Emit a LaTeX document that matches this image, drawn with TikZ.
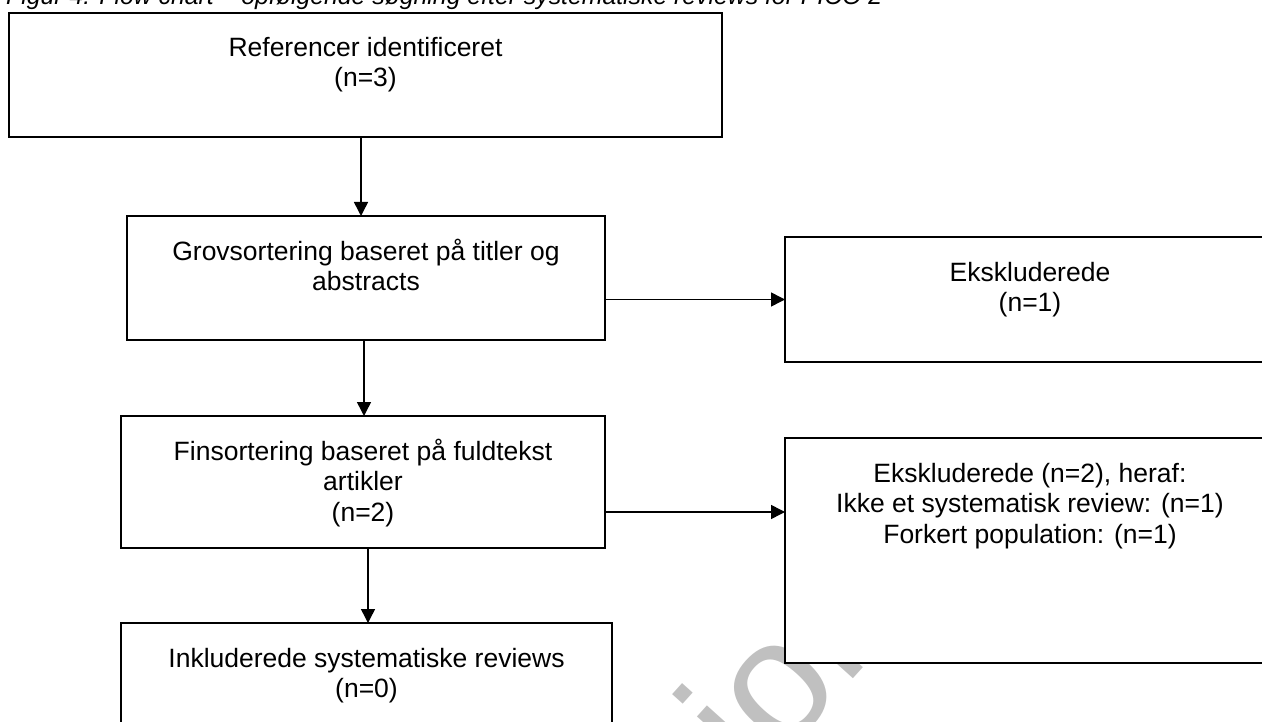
\documentclass[tikz,border=0pt]{standalone}
\usepackage{fontspec}
\setmainfont{Liberation Sans}
\usetikzlibrary{arrows.meta,calc}
\definecolor{wmgray}{RGB}{192,192,192}
\newcommand{\boxfont}{\fontsize{26.5}{30.6}\selectfont}
\newcommand{\capfont}{\fontsize{24.8}{30}\selectfont\itshape}

\begin{document}
\begin{tikzpicture}[x=1pt,y=-1pt,
  flowbox/.style={draw, line width=1.8pt, fill=white, inner sep=0pt, outer sep=0pt, anchor=north west},
  boxtext/.style={anchor=north, inner sep=0pt, align=center, font=\boxfont},
  arr/.style={line width=1.5pt, -{Triangle[length=14pt,width=14pt]}}]
\useasboundingbox (0,0) rectangle (1262,722);
\clip (0,0) rectangle (1262,722);

% watermark behind the boxes
\node[rotate=48, anchor=base east, text=wmgray, inner sep=0pt,
      font=\fontsize{170}{170}\selectfont] (wm) at (909,617) {Høringsversion};

% caption, cut at the top edge
\node[anchor=base west, inner sep=0pt, font=\capfont] (cap) at (6,4.5)
  {Figur 4: Flow chart – opfølgende søgning efter systematiske reviews for PICO 2};

% boxes
\node[flowbox, minimum width=713pt, minimum height=124pt] (a)  at (9,13) {};
\node[flowbox, minimum width=478pt, minimum height=124pt] (b)  at (127,216) {};
\node[flowbox, minimum width=484pt, minimum height=132pt] (f)  at (121,416) {};
\node[flowbox, minimum width=491pt, minimum height=140pt] (i)  at (121,623) {};
\node[flowbox, minimum width=490pt, minimum height=125pt] (e1) at (785,237) {};
\node[flowbox, minimum width=490pt, minimum height=225pt] (e2) at (785,438) {};

% box texts
\node[boxtext] (ta)  at ([yshift=-21.5pt]a.north)  {\strut Referencer identificeret\\(n=3)};
\node[boxtext] (tb)  at ([yshift=-22.6pt]b.north)  {\strut Grovsortering baseret på titler og\\abstracts};
\node[boxtext] (tf)  at ([yshift=-22.6pt]f.north)  {\strut Finsortering baseret på fuldtekst\\artikler\\(n=2)};
\node[boxtext] (ti)  at ([yshift=-22.6pt]i.north)  {\strut Inkluderede systematiske reviews\\(n=0)};
\node[boxtext] (te1) at ([yshift=-22.6pt]e1.north) {\strut Ekskluderede\\(n=1)};
\node[boxtext] (te2) at ([yshift=-22.6pt]e2.north) {\strut Ekskluderede (n=2), heraf:\\Ikke et systematisk review: (n=1)\\Forkert population: (n=1)};

% connectors
\draw[arr] ([xshift=-4.5pt]a.south) -- ([xshift=-4.5pt]a.south |- b.north);
\draw[arr] ([xshift=-2pt]b.south) -- ([xshift=-2pt]b.south |- f.north);
\draw[arr] ([xshift=5pt]f.south) -- ([xshift=5pt]f.south |- i.north);
\draw[arr] (e1.west -| b.east) -- (e1.west);
\draw[arr] ([yshift=-30pt]f.east) -- ([yshift=-30pt]f.east -| e2.west);
\end{tikzpicture}
\end{document}
